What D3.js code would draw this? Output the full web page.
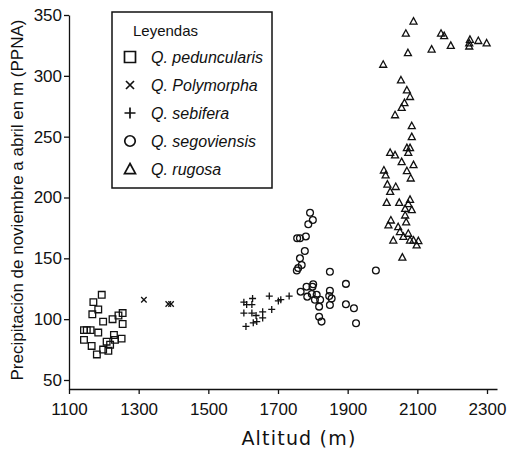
<!DOCTYPE html>
<html lang="es">

<head>
  <meta charset="utf-8">
  <title>Precipitación vs altitud</title>
  <script type="text/javascript" src="https://cdn.jsdelivr.net/npm/d3@7"></script>
  <style type="text/css">
    body { margin: 0; background: #fff; }
    text { font-family: "Liberation Sans", Arial, sans-serif; fill: #111; }
  </style>
</head>

<body>
  <script type="text/javascript">
    // Tick labels
    const xTicks = [1100, 1300, 1500, 1700, 1900, 2100, 2300];
    const yTicks = [50, 100, 150, 200, 250, 300, 350];

    // Species (legend order)
    const species = ["Q. peduncularis", "Q. Polymorpha", "Q. sebifera", "Q. segoviensis", "Q. rugosa"];

    // Q. peduncularis
    const pedX = [1194, 1170, 1184, 1167, 1198, 1225, 1242, 1254, 1254, 1143, 1151, 1162, 1184, 1229, 1251, 1143, 1232, 1165, 1208, 1218, 1198, 1213, 1180];
    const pedY = [120, 114, 108, 104, 98, 100, 103, 105, 96, 91, 91, 91, 89, 87, 84, 83, 83, 78, 81.5, 79, 75, 74, 71];

    // Q. Polymorpha
    const polX = [1315, 1385, 1393];
    const polY = [116, 112.5, 112.5];

    // Q. sebifera
    const sebX = [1602, 1627, 1610, 1625, 1602, 1625, 1637, 1656, 1656, 1639, 1629, 1608, 1682, 1675, 1701, 1708, 1732];
    const sebY = [114, 117, 112, 112, 105, 105, 103, 106, 101, 98, 97, 94, 108, 119, 115, 116, 119];

    // Q. segoviensis
    const segX = [1792, 1800, 1787, 1755, 1763, 1780, 1777, 1763, 1768, 1758, 1754, 1849, 1981, 1801, 1799, 1782, 1895,
      1765, 1784, 1797, 1811, 1821, 1806, 1849, 1847, 1854, 1849, 1818, 1895, 1918, 1818, 1825, 1924];
    const segY = [187.5, 181.5, 178, 166.5, 166.5, 168, 156, 150, 144.5, 142, 140, 139, 140, 128.7, 126.7, 126.7, 129,
      122.6, 118.5, 120.7, 120, 116, 116, 123.4, 119, 117, 111.6, 110.3, 112.2, 109, 102, 98, 96.6];

    // Q. rugosa
    const rugX = [2089, 2067, 2168, 2177, 2196, 2251, 2249, 2249, 2275, 2299, 2141, 2073, 2002, 2053, 2070, 2079, 2063,
      2055, 2036, 2084, 2084, 2070, 2079, 2074, 2022, 2036, 2055, 2089, 2070, 2081, 2004, 2009, 2014, 2038, 2022, 2012,
      2048, 2079, 2074, 2084, 2065, 2065, 2068, 2017, 2024, 2045, 2050, 2060, 2074, 2079, 2089, 2103, 2098, 2031, 2057];
    const rugY = [345, 335, 335, 333, 325, 330, 327, 324.5, 329, 327, 322, 319, 309.5, 296.6, 288.4, 283, 278,
      274, 268, 259, 250, 241, 241, 237, 237, 235, 229.5, 227, 222, 216, 222.6, 218.5, 211, 209, 205, 196,
      196, 198.5, 195, 190, 191, 185.6, 180, 177.4, 181.5, 176, 172, 168, 170.6, 165, 165, 164.5, 161, 165, 151];

    const w = 509;
    const h = 453;
    const ink = "#111";

    // Hollow marker shapes, r = half width
    const shapes = {
      square: {draw: function (c, size) {
        const r = Math.sqrt(size) / 2;
        c.moveTo(-r, -r); c.lineTo(r, -r); c.lineTo(r, r); c.lineTo(-r, r); c.closePath();
      }},
      times: {draw: function (c, size) {
        const r = Math.sqrt(size) / 2;
        c.moveTo(-r, -r); c.lineTo(r, r); c.moveTo(r, -r); c.lineTo(-r, r);
      }},
      plus: {draw: function (c, size) {
        const r = Math.sqrt(size) / 2;
        c.moveTo(-r, 0); c.lineTo(r, 0); c.moveTo(0, -r); c.lineTo(0, r);
      }},
      circle: {draw: function (c, size) {
        const r = Math.sqrt(size) / 2;
        c.moveTo(r, 0); c.arc(0, 0, r, 0, 2 * Math.PI);
      }},
      triangle: {draw: function (c, size) {
        const r = Math.sqrt(size) / 2;
        c.moveTo(0, -r); c.lineTo(r, r * 0.85); c.lineTo(-r, r * 0.85); c.closePath();
      }}
    };

    const groups = [
      {xs: pedX, ys: pedY, shape: shapes.square, size: 44, legSize: 121},
      {xs: polX, ys: polY, shape: shapes.times, size: 30, legSize: 64},
      {xs: sebX, ys: sebY, shape: shapes.plus, size: 49, legSize: 121},
      {xs: segX, ys: segY, shape: shapes.circle, size: 46, legSize: 110},
      {xs: rugX, ys: rugY, shape: shapes.triangle, size: 49, legSize: 121}
    ];

    // Scales
    const xScale = d3.scaleLinear()
      .domain([1100, 2328.7])
      .range([69, 497]);

    const yScale = d3.scaleLinear()
      .domain([42.6, 350])
      .range([389, 15]);

    const svg = d3.select("body")
      .append("svg")
      .attr("width", w)
      .attr("height", h);

    // Axes
    const xAxis = svg.append("g")
      .attr("transform", "translate(0,389)")
      .call(d3.axisBottom(xScale).tickValues(xTicks).tickFormat(d3.format("d"))
        .tickSize(5).tickPadding(9).tickSizeOuter(0));

    const yAxis = svg.append("g")
      .attr("transform", "translate(69,0)")
      .call(d3.axisLeft(yScale).tickValues(yTicks).tickFormat(d3.format("d"))
        .tickSize(5).tickPadding(2).tickSizeOuter(0));

    [xAxis, yAxis].forEach(function (g) {
      g.selectAll("path, line").attr("stroke", ink).attr("stroke-width", 1.3);
      g.selectAll("text")
        .attr("fill", ink)
        .style("font-family", "'Liberation Sans', Arial, sans-serif")
        .style("font-size", "17px");
    });

    svg.append("text")
      .attr("x", 299)
      .attr("y", 445)
      .attr("text-anchor", "middle")
      .style("font-family", "'DejaVu Sans', sans-serif")
      .style("font-size", "19px")
      .style("letter-spacing", "1.2px")
      .text("Altitud (m)");

    svg.append("text")
      .attr("transform", "translate(23,200) rotate(-90)")
      .attr("text-anchor", "middle")
      .style("font-size", "17px")
      .text("Precipitación de noviembre a abril en m (PPNA)");

    // Points
    groups.forEach(function (g) {
      svg.append("g")
        .selectAll("path")
        .data(g.xs.map(function (x, i) { return {x: x, y: g.ys[i]}; }))
        .enter()
        .append("path")
        .attr("transform", function (d) {
          return "translate(" + xScale(d.x) + "," + yScale(d.y) + ")";
        })
        .attr("d", d3.symbol().type(g.shape).size(g.size))
        .attr("fill", "none")
        .attr("stroke", ink)
        .attr("stroke-width", 1.3);
    });

    // Legend
    const legend = svg.append("g");

    legend.append("rect")
      .attr("x", 112)
      .attr("y", 12)
      .attr("width", 160)
      .attr("height", 176)
      .attr("fill", "#fff")
      .attr("stroke", ink)
      .attr("stroke-width", 1.5);

    legend.append("text")
      .attr("x", 133)
      .attr("y", 36)
      .style("font-size", "15px")
      .text("Leyendas");

    const rows = legend.selectAll("g.row")
      .data(species)
      .enter()
      .append("g")
      .attr("class", "row")
      .attr("transform", function (d, i) {
        return "translate(0," + (57 + i * 28) + ")";
      });

    rows.append("path")
      .attr("transform", "translate(130,0)")
      .attr("d", function (d, i) {
        return d3.symbol().type(groups[i].shape).size(groups[i].legSize)();
      })
      .attr("fill", "none")
      .attr("stroke", ink)
      .attr("stroke-width", 1.7);

    rows.append("text")
      .attr("x", 151)
      .attr("y", 5.5)
      .style("font-size", "16px")
      .style("font-style", "italic")
      .text(function (d) { return d; });
  </script>
</body>

</html>
